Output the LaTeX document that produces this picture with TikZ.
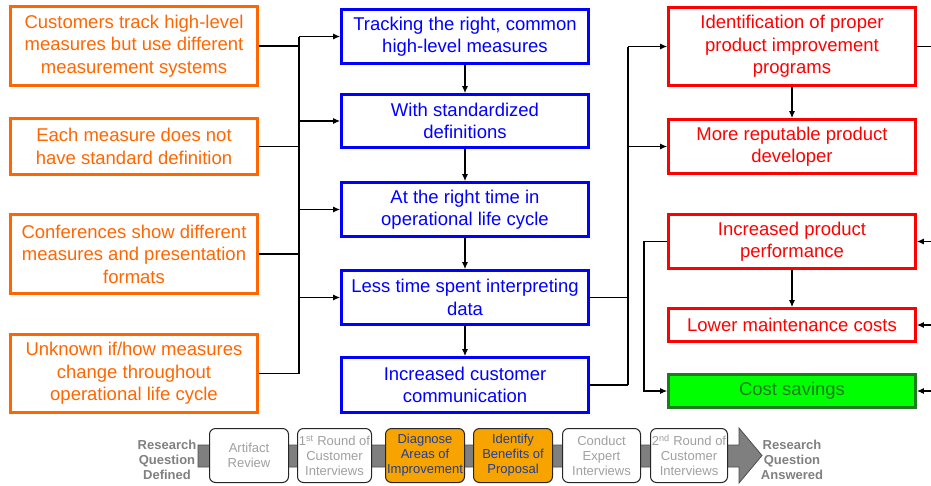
\documentclass[tikz,border=0pt]{standalone}
\usepackage{fontspec}
\setmainfont{Liberation Sans}
\usetikzlibrary{arrows.meta}
\definecolor{corange}{HTML}{FF6600}
\definecolor{cblue}{HTML}{0000FF}
\definecolor{cred}{HTML}{FF0000}
\definecolor{cgreen}{HTML}{00FF00}
\definecolor{cgreenb}{HTML}{1E7B1E}
\definecolor{cgreent}{HTML}{237A23}
\definecolor{phl}{HTML}{F7A300}
\definecolor{phltext}{HTML}{1F3D99}
\definecolor{ptext}{HTML}{A0A0A0}
\definecolor{plabel}{HTML}{808080}
\definecolor{pbar}{HTML}{7F7F7F}
\begin{document}
\begin{tikzpicture}[x=1pt,y=-1pt,
  mainbox/.style={draw, line width=2.6pt, align=center, inner sep=0pt,
    minimum width=247pt, fill=white,
    font=\fontsize{18.5}{22.5}\selectfont},
  obox/.style={mainbox, draw=corange, text=corange},
  bbox/.style={mainbox, draw=cblue, text=cblue},
  rbox/.style={mainbox, draw=cred, text=cred},
  gbox/.style={mainbox, draw=cgreenb, fill=cgreen, text=cgreent},
  conn/.style={draw=black, line width=1.2pt},
  arr/.style={conn, -{Latex[length=7pt,width=6pt]}},
  pbox/.style={draw=black!85, line width=1pt, rounded corners=6pt, fill=white,
    text=ptext, align=center, inner sep=0pt, minimum height=54pt,
    font=\fontsize{13}{15}\selectfont},
  hl/.style={fill=phl, text=phltext},
  lbl/.style={text=plabel, align=center, inner sep=0pt,
    font=\fontsize{13}{15}\selectfont\bfseries}]
\useasboundingbox (0,0) rectangle (931,485);

% left column
\node[obox, minimum height=79pt] (O1) at (134,46) {Customers track high-level\\measures but use different\\measurement systems};
\node[obox, minimum height=56pt] (O2) at (134,146.5) {Each measure does not\\have standard definition};
\node[obox, minimum height=79pt] (O3) at (134,254) {Conferences show different\\measures and presentation\\formats};
\node[obox, minimum height=78pt] (O4) at (134,373.5) {Unknown if/how measures\\change throughout\\operational life cycle};

% middle column
\node[bbox, minimum height=54pt] (B1) at (465,36.5) {Tracking the right, common\\high-level measures};
\node[bbox, minimum height=53pt] (B2) at (465,121) {With standardized\\definitions};
\node[bbox, minimum height=54pt] (B3) at (465,209.5) {At the right time in\\operational life cycle};
\node[bbox, minimum height=54pt] (B4) at (465,297.5) {Less time spent interpreting\\data};
\node[bbox, minimum height=55pt] (B5) at (465,385) {Increased customer\\communication};

% right column
\node[rbox, minimum height=78pt] (R1) at (792,46.5) {Identification of proper\\product improvement\\programs};
\node[rbox, minimum height=54pt] (R2) at (792,146.5) {More reputable product\\developer};
\node[rbox, minimum height=54pt] (R3) at (792,241.5) {Increased product\\performance};
\node[rbox, minimum height=33pt] (R4) at (792,325) {Lower maintenance costs};
\node[gbox, minimum height=33pt] (G) at (792,391) {Cost savings};

% bus coordinates
\coordinate (busL) at (299,0);
\coordinate (busR) at (628,0);
\coordinate (busG) at (644,0);
\coordinate (edge) at (931,0);

% left connectors
\draw[conn] (O1.east) -- (O1.east -| busL);
\draw[conn] (O2.east) -- (O2.east -| busL);
\draw[conn] (O3.east) -- (O3.east -| busL);
\draw[conn] (O4.east) -- (O4.east -| busL);
\draw[conn] (B1.west -| busL) -- (O4.east -| busL);
\draw[arr] (B1.west -| busL) -- (B1.west);
\draw[arr] (B2.west -| busL) -- (B2.west);
\draw[arr] (B3.west -| busL) -- (B3.west);
\draw[arr] (B4.west -| busL) -- (B4.west);

% middle chain
\draw[arr] (B1.south) -- (B2.north);
\draw[arr] (B2.south) -- (B3.north);
\draw[arr] (B3.south) -- (B4.north);
\draw[arr] (B4.south) -- (B5.north);

% right connectors
\draw[conn] (B4.east) -- (B4.east -| busR);
\draw[conn] (B5.east) -- (B5.east -| busR);
\draw[conn] (R1.west -| busR) -- (B5.east -| busR);
\draw[arr] (R1.west -| busR) -- (R1.west);
\draw[arr] (R2.west -| busR) -- (R2.west);
\draw[arr] (R1.south) -- (R2.north);
\draw[arr] (R3.south) -- (R4.north);
\draw[arr] (R3.west) -- (R3.west -| busG) |- (G.west);

% right edge
\draw[conn] (R1.east) -- (R1.east -| edge);
\draw[arr] (R3.east -| edge) -- (R3.east);
\draw[arr] (R4.east -| edge) -- (R4.east);
\draw[arr] (G.east -| edge) -- (G.east);

% process strip
\path[fill=pbar, draw=black!70, line width=0.8pt]
  (198,445) -- (739,445) -- (739,428) -- (762,455.5) -- (739,483) -- (739,467) -- (198,467) -- cycle;
\node[lbl] (Lstart) at (167,460) {Research\\Question\\Defined};
\node[lbl] (Lend) at (792,460) {Research\\Question\\Answered};
\node[pbox, minimum width=79pt] (P1) at (249,455.5) {Artifact\\Review};
\node[pbox, minimum width=74pt] (P2) at (334.5,455.5) {1\textsuperscript{st} Round of\\Customer\\Interviews};
\node[pbox, hl, minimum width=79pt] (P3) at (425,455.5) {Diagnose\\Areas of\\Improvement};
\node[pbox, hl, minimum width=79pt] (P4) at (513,455.5) {Identify\\Benefits of\\Proposal};
\node[pbox, minimum width=78pt] (P5) at (601.5,455.5) {Conduct\\Expert\\Interviews};
\node[pbox, minimum width=77pt] (P6) at (689,455.5) {2\textsuperscript{nd} Round of\\Customer\\Interviews};
\end{tikzpicture}
\end{document}
